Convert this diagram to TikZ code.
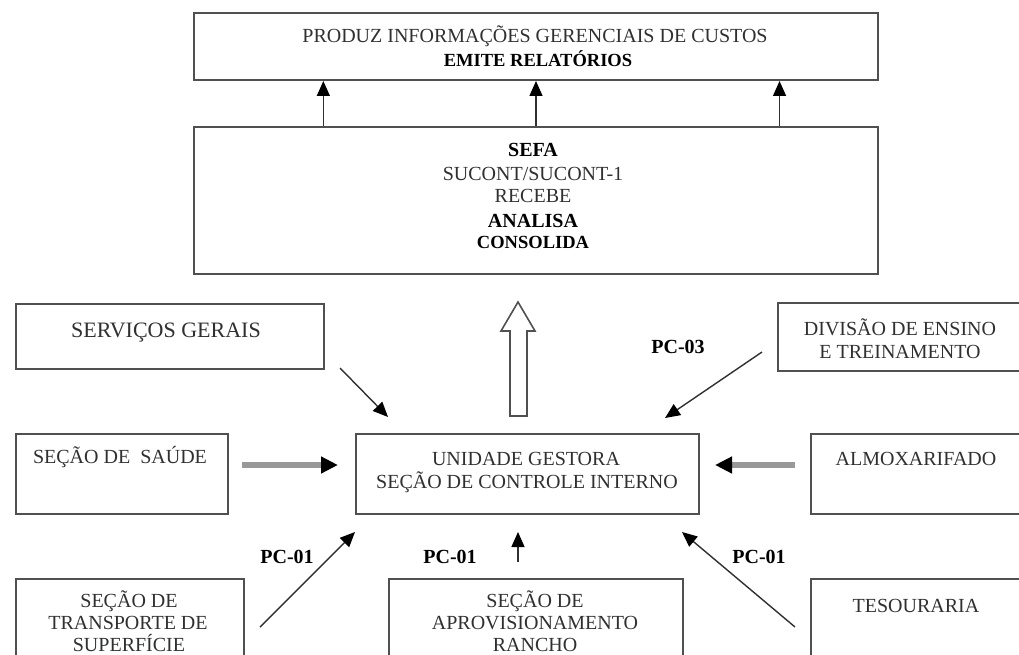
\documentclass[tikz,border=0pt]{standalone}
\usepackage{fontspec}
\setmainfont{Liberation Serif}
\usetikzlibrary{arrows.meta,calc}
\definecolor{boxline}{HTML}{505050}
\definecolor{txt}{HTML}{303030}
\definecolor{thickgray}{HTML}{999999}
\begin{document}
\begin{tikzpicture}[x=1pt,y=-1pt,
 box/.style={draw=boxline, line width=2pt, rectangle, anchor=north west, inner sep=0pt},
 lbl/.style={anchor=base, inner sep=0pt, text=txt, font=\fontsize{20}{24}\selectfont},
 bl/.style={anchor=base, inner sep=0pt, text=black, font=\fontsize{20}{24}\selectfont\bfseries},
 blsmall/.style={anchor=base, inner sep=0pt, text=black, font=\fontsize{18.5}{22}\selectfont\bfseries},
 thinarrow/.style={draw=txt, line width=1.4pt, -{Triangle[length=15pt,width=13pt,color=black]}},
 thickarrow/.style={draw=thickgray, line width=6pt, -{Triangle[length=17pt,width=16pt,color=black]}},
 hollow/.style={draw=boxline, line width=1.6pt, fill=white, line join=miter}
]
\useasboundingbox (0,0) rectangle (1019,655);

% boxes
\node[box, minimum width=684pt, minimum height=67pt] (top) at (193,12) {};
\node[box, minimum width=684pt, minimum height=147pt] (sefa) at (193,126) {};
\node[box, minimum width=308pt, minimum height=65pt] (serv) at (15,303) {};
\node[box, minimum width=263pt, minimum height=68pt] (div) at (777,302) {};
\node[box, minimum width=343pt, minimum height=80pt] (ug) at (355,433) {};
\node[box, minimum width=212pt, minimum height=80pt] (saude) at (15,433) {};
\node[box, minimum width=230pt, minimum height=80pt] (almox) at (810,433) {};
\node[box, minimum width=228pt, minimum height=110pt] (transp) at (15,578) {};
\node[box, minimum width=294pt, minimum height=110pt] (aprov) at (388,578) {};
\node[box, minimum width=230pt, minimum height=110pt] (tes) at (810,578) {};

% texts
\node[lbl] (top1) at (535,43) {PRODUZ INFORMAÇÕES GERENCIAIS DE CUSTOS};
\node[blsmall] (top2) at (538,67) {EMITE RELATÓRIOS};
\node[bl] (sefa1) at (533,157) {SEFA};
\node[lbl] (sefa2) at (533,180) {SUCONT/SUCONT-1};
\node[lbl] (sefa3) at (533,202) {RECEBE};
\node[bl] (sefa4) at (533,227) {ANALISA};
\node[blsmall] (sefa5) at (533,248) {CONSOLIDA};
\node[lbl, font=\fontsize{22}{26}\selectfont] (servt) at (166,337) {SERVIÇOS GERAIS};
\node[lbl] (divt1) at (900,335) {DIVISÃO DE ENSINO};
\node[lbl] (divt2) at (900,358) {E TREINAMENTO};
\node[bl] (pc03) at (678,353) {PC-03};
\node[lbl] (ugt1) at (526,465) {UNIDADE GESTORA};
\node[lbl] (ugt2) at (527,488) {SEÇÃO DE CONTROLE INTERNO};
\node[lbl] (saudet) at (120,463) {SEÇÃO DE~~SAÚDE};
\node[lbl] (almt) at (916,465) {ALMOXARIFADO};
\node[bl] (pc01a) at (287,563) {PC-01};
\node[bl] (pc01b) at (450,563) {PC-01};
\node[bl] (pc01c) at (759,563) {PC-01};
\node[lbl] (trt1) at (129,607) {SEÇÃO DE};
\node[lbl] (trt2) at (128,629) {TRANSPORTE DE};
\node[lbl] (trt3) at (129,651) {SUPERFÍCIE};
\node[lbl] (apt1) at (535,607) {SEÇÃO DE};
\node[lbl] (apt2) at (535,629) {APROVISIONAMENTO};
\node[lbl] (apt3) at (535,651) {RANCHO};
\node[lbl] (test) at (916,612) {TESOURARIA};

% arrows sefa -> top
\foreach \f in {0.190,0.500,0.855}{
  \draw[thinarrow] ($(sefa.north west)!\f!(sefa.north east)$) -- ($(top.south west)!\f!(top.south east)$);
}

% free ends
\coordinate (sgA) at (340,368);  \coordinate (sgB) at (388,417);
\coordinate (dvA) at (762,352);  \coordinate (dvB) at (665,418);
\coordinate (trA) at (260,627);  \coordinate (trB) at (355,532);
\coordinate (tsA) at (795,627);  \coordinate (tsB) at (682,532);
\coordinate (apA) at (518,562);  \coordinate (apB) at (518,532);
\coordinate (saA) at (242,465);  \coordinate (saB) at (338,465);
\coordinate (alA) at (795,465);  \coordinate (alB) at (715,465);

\draw[thinarrow] (sgA) -- (sgB);
\draw[thinarrow] (dvA) -- (dvB);
\draw[thinarrow] (trA) -- (trB);
\draw[thinarrow] (tsA) -- (tsB);
\draw[thinarrow] (apA) -- (apB);
\draw[thickarrow] (saA) -- (saB);
\draw[thickarrow] (alA) -- (alB);

% hollow arrow ug -> sefa
\draw[hollow] (510,416) -- (510,331) -- (501,331) -- (518,302) -- (535,331) -- (527,331) -- (527,416) -- cycle;
\end{tikzpicture}
\end{document}
